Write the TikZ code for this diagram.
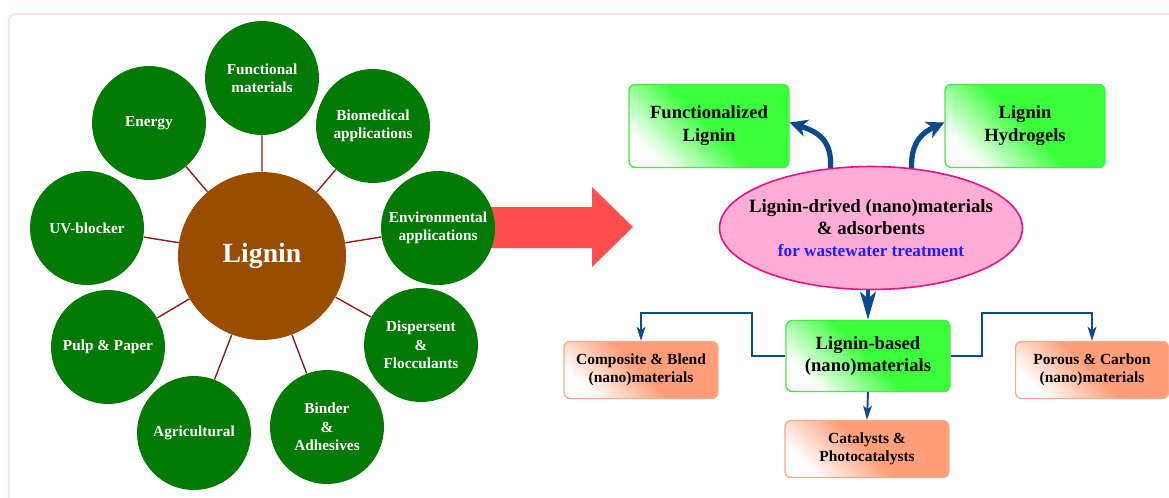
\documentclass[tikz,border=0pt]{standalone}
\usepackage{fontspec}
\setmainfont{Liberation Serif}
\usetikzlibrary{shapes.geometric,arrows.meta}
\definecolor{leafgreen}{RGB}{4,122,6}
\definecolor{hubbrown}{RGB}{153,77,0}
\definecolor{linkred}{RGB}{140,30,30}
\definecolor{bigred}{RGB}{255,76,76}
\definecolor{limegreen}{RGB}{60,255,60}
\definecolor{limeedge}{RGB}{70,235,70}
\definecolor{salmon}{RGB}{255,158,120}
\definecolor{salmonedge}{RGB}{250,170,140}
\definecolor{pinkfill}{RGB}{255,172,214}
\definecolor{pinkedge}{RGB}{232,16,136}
\definecolor{arrowblue}{RGB}{12,74,140}
\definecolor{textblue}{RGB}{30,30,255}
\definecolor{framepink}{RGB}{255,224,234}
\tikzset{every node/.style={align=center,inner sep=0pt},
  sat/.style={circle,fill=leafgreen,text=white,minimum size=2.28cm,font=\bfseries\fontsize{8.7}{10.4}\selectfont},
  hub/.style={circle,fill=hubbrown,text=white,minimum size=3.36cm,font=\bfseries\fontsize{15.8}{18}\selectfont},
  link/.style={linkred,line width=0.8pt},
  limebox/.style={rounded corners=3.5pt,draw=limeedge,line width=0.8pt,top color=white,bottom color=limegreen,middle color=limegreen,shading angle=135,font=\bfseries\fontsize{10.6}{13}\selectfont},
  salmonbox/.style={rounded corners=3.5pt,draw=salmonedge,line width=0.8pt,top color=white,bottom color=salmon,middle color=salmon,shading angle=135,font=\bfseries\fontsize{8.8}{10.5}\selectfont,minimum height=1.14cm},
  ell/.style={ellipse,fill=pinkfill,draw=pinkedge,line width=0.9pt,minimum width=6.06cm,minimum height=2.46cm,inner xsep=-0.4cm,font=\bfseries\fontsize{10.7}{12.7}\selectfont},
  swoop/.style={arrowblue,line width=3pt,-{Stealth[length=10pt,width=10pt,inset=3pt]}},
  branch/.style={arrowblue,line width=1.1pt,-{Stealth[length=8pt,width=5pt,inset=2pt]}}}

\begin{document}
\begin{tikzpicture}[x=0.02cm,y=-0.02cm]
      \useasboundingbox (0,0) rectangle (1169,497);
      \draw[framepink,line width=1.1pt,rounded corners=3.4pt] (9,520) -- (9,14) -- (1190,14);
      \fill[bigred] (440,207) -- (592,207) -- (592,187) -- (633,227) -- (592,267) -- (592,248) -- (440,248) -- cycle;

      \node[hub] (L) at (262,256) {Lignin};
      \node[sat] (Fm) at (262,78) {Functional\\materials};
      \node[sat] (En) at (149,123) {Energy};
      \node[sat] (Bm) at (373,126) {Biomedical\\applications};
      \node[sat] (UV) at (87,228) {UV-blocker};
      \node[sat] (Ev) at (438,228) {Environmental\\applications};
      \node[sat] (PP) at (108,347) {Pulp \& Paper};
      \node[sat] (Df) at (421,345) {Dispersent\\\&\\Flocculants};
      \node[sat] (Ag) at (194,433) {Agricultural};
      \node[sat] (BA) at (327,427) {Binder\\\&\\Adhesives};

      \draw[link] (Fm) -- (L) -- (Bm);
      \draw[link] (En) -- (L) -- (Ev);
      \draw[link] (UV) -- (L) -- (Df);
      \draw[link] (PP) -- (L) -- (BA);
      \draw[link] (Ag) -- (L);

      \node[limebox,minimum width=3.2cm,minimum height=1.66cm] (Fn) at (709,126) {Functionalized\\Lignin};
      \node[limebox,minimum width=3.2cm,minimum height=1.66cm] (Hg) at (1025,126) {Lignin\\Hydrogels};
      \node[ell] (D) at (871,228) {Lignin-drived (nano)materials\\\& adsorbents\\{\color{textblue}\fontsize{9.8}{12}\selectfont for wastewater treatment}};
      \node[limebox,minimum width=3.28cm,minimum height=1.42cm] (B) at (868,356) {Lignin-based\\(nano)materials};
      \node[salmonbox,minimum width=3.08cm] (C) at (641,370) {Composite \& Blend\\(nano)materials};
      \node[salmonbox,minimum width=3.06cm] (P) at (1092,370) {Porous \& Carbon\\(nano)materials};
      \node[salmonbox,minimum width=3.28cm] (K) at (867,449) {Catalysts \&\\Photocatalysts};

      \draw[swoop] (D.124) .. controls (832,140) and (818,132) .. ([yshift=2pt]Fn.east);
      \draw[swoop] (D.56) .. controls (911,140) and (924,132) .. ([yshift=2pt]Hg.west);
      \draw[arrowblue,line width=2pt,-{Stealth[length=16pt,width=9pt,inset=4pt]}] (B.north |- D.south) -- (B.north);
      \draw[branch] (B.west) -| (752,313) -| (C.north);
      \draw[branch] (B.east) -| (982,313) -| (P.north);
      \draw[branch] (B.south) -- (K.north);
\end{tikzpicture}
\end{document}
